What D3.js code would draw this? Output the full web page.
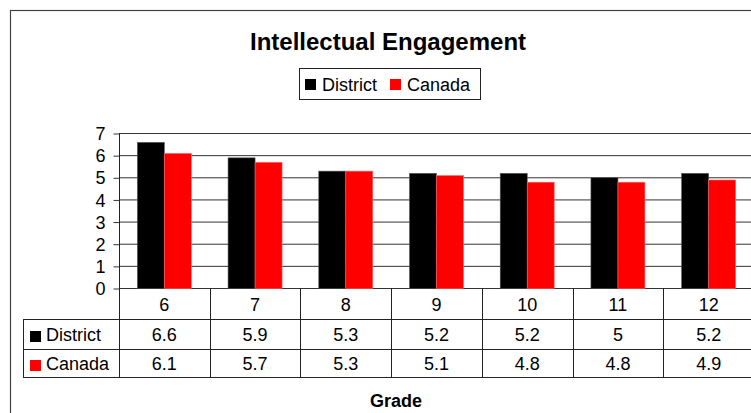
<!DOCTYPE html>
<html>
<head>
<meta charset="utf-8">
<script src="https://cdn.jsdelivr.net/npm/d3@7"></script>
<style>
  body { margin: 0; background: #fff; }
  text { font-family: "Liberation Sans", Arial, sans-serif; fill: #000; }
</style>
</head>
<body>
<div id="chart"></div>
<script>
/** data **/
var grades = ["6", "7", "8", "9", "10", "11", "12"];
var series = ["District", "Canada"];
var district = [6.6, 5.9, 5.3, 5.2, 5.2, 5, 5.2];
var canada = [6.1, 5.7, 5.3, 5.1, 4.8, 4.8, 4.9];
var colors = ["#000000", "#ff0000"];
var yTicks = [0, 1, 2, 3, 4, 5, 6, 7];

var values = [district, canada];

var svg = d3.select("#chart").append("svg")
    .attr("width", 751)
    .attr("height", 413);

/** outer frame **/
svg.append("rect")
    .attr("x", 10.5).attr("y", 10.5)
    .attr("width", 800).attr("height", 500)
    .style("fill", "none").style("stroke", "#444").style("stroke-width", 1.2);

/** title **/
svg.append("text")
    .text("Intellectual Engagement")
    .attr("x", 388).attr("y", 50)
    .attr("text-anchor", "middle")
    .style("font-size", "24px").style("font-weight", "bold");

/** legend **/
var legend = svg.append("g");
legend.append("rect")
    .attr("x", 299.5).attr("y", 68.5)
    .attr("width", 181).attr("height", 31)
    .style("fill", "#fff").style("stroke", "#222").style("stroke-width", 1);
var legX = [305, 390];
series.forEach(function(s, i) {
    legend.append("rect")
        .attr("x", legX[i]).attr("y", 79)
        .attr("width", 11).attr("height", 11)
        .style("fill", colors[i]);
    legend.append("text")
        .text(s)
        .attr("x", legX[i] + 17).attr("y", 90.5)
        .style("font-size", "18px");
});

/** scales **/
var left = 119, right = 754;
var x0 = d3.scaleBand().domain(grades).range([left, right]).padding(0);
var x1 = d3.scaleBand().domain(series).range([0, x0.bandwidth()])
    .paddingInner(0).paddingOuter(0.68);
var y = d3.scaleLinear().domain([0, 7]).range([288.5, 133.5]);

/** gridlines **/
svg.append("g")
    .selectAll("line")
    .data(yTicks)
    .join("line")
    .attr("x1", left).attr("x2", 800)
    .attr("y1", function(d) { return y(d); })
    .attr("y2", function(d) { return y(d); })
    .style("stroke", "#333").style("stroke-width", 1);

/** y axis **/
var yAxis = svg.append("g")
    .attr("transform", "translate(" + (left + 0.5) + ",0)")
    .call(d3.axisLeft(y).tickValues(yTicks).tickSize(6).tickPadding(8).tickFormat(d3.format("d")));
yAxis.select(".domain").remove();
yAxis.selectAll("line").style("stroke", "#333");
yAxis.selectAll("text")
    .style("font-size", "18px")
    .attr("font-family", null)
    .attr("dy", "0.34em");

/** bars **/
series.forEach(function(s, i) {
    svg.append("g")
        .selectAll("rect")
        .data(values[i])
        .join("rect")
        .attr("x", function(d, j) { return x0(grades[j]) + x1(s); })
        .attr("y", function(d) { return y(d); })
        .attr("width", x1.bandwidth())
        .attr("height", function(d) { return y(0) - y(d); })
        .style("fill", colors[i])
        .style("stroke", i == 0 ? "#555" : "#f66")
        .style("stroke-width", 0.6);
});

/** data table **/
var rowY = [288.5, 319.5, 349.5, 377.5];
var table = svg.append("g").style("stroke", "#222").style("stroke-width", 1);
/* horizontal lines */
table.append("line").attr("x1", 23).attr("x2", 800).attr("y1", rowY[1]).attr("y2", rowY[1]);
table.append("line").attr("x1", 23).attr("x2", 800).attr("y1", rowY[2]).attr("y2", rowY[2]);
table.append("line").attr("x1", 23).attr("x2", 800).attr("y1", rowY[3]).attr("y2", rowY[3]);
table.append("line").attr("x1", 23.5).attr("x2", 23.5).attr("y1", rowY[1]).attr("y2", rowY[3]);
/* vertical category lines */
table.selectAll("line.v")
    .data(grades.concat(["end"]))
    .join("line")
    .attr("class", "v")
    .attr("x1", function(d, j) { return Math.round(left + j * x0.bandwidth()) + 0.5; })
    .attr("x2", function(d, j) { return Math.round(left + j * x0.bandwidth()) + 0.5; })
    .attr("y1", function(d, j) { return j == 0 ? y(7) : rowY[0]; })
    .attr("y2", rowY[3]);

/* category labels */
svg.append("g")
    .selectAll("text")
    .data(grades)
    .join("text")
    .text(function(d) { return d; })
    .attr("x", function(d) { return x0(d) + x0.bandwidth() / 2; })
    .attr("y", 311)
    .attr("text-anchor", "middle")
    .style("font-size", "18px");

/* series rows */
var rowBase = [341, 370];
series.forEach(function(s, i) {
    svg.append("rect")
        .attr("x", 30).attr("y", rowBase[i] - 10)
        .attr("width", 11).attr("height", 11)
        .style("fill", colors[i]);
    svg.append("text")
        .text(s)
        .attr("x", 46).attr("y", rowBase[i])
        .style("font-size", "18px");
    svg.append("g")
        .selectAll("text")
        .data(values[i])
        .join("text")
        .text(function(d) { return d; })
        .attr("x", function(d, j) { return x0(grades[j]) + x0.bandwidth() / 2; })
        .attr("y", rowBase[i])
        .attr("text-anchor", "middle")
        .style("font-size", "18px");
});

/** x axis title **/
svg.append("text")
    .text("Grade")
    .attr("x", 396).attr("y", 407)
    .attr("text-anchor", "middle")
    .style("font-size", "18px").style("font-weight", "bold");
</script>
</body>
</html>
